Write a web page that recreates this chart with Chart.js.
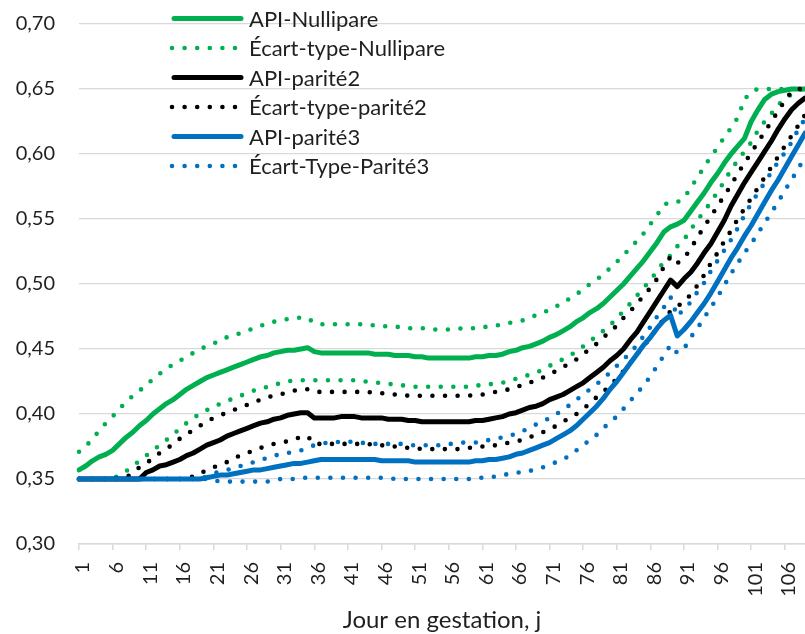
<!DOCTYPE html>
<html>
<head>
<meta charset="utf-8">
<script src="https://cdn.jsdelivr.net/npm/chart.js@4/dist/chart.umd.min.js"></script>
<style>
  html, body { margin: 0; padding: 0; background: #fff; }
  #wrap { width: 805px; height: 634px; }
</style>
</head>
<body>
<div id="wrap"><canvas id="apiChart" width="805" height="634"></canvas></div>
<script>
// jours de gestation (catégories)
const days = [
  1, 2, 3, 4, 5, 6, 7, 8, 9, 10,
  11, 12, 13, 14, 15, 16, 17, 18, 19, 20,
  21, 22, 23, 24, 25, 26, 27, 28, 29, 30,
  31, 32, 33, 34, 35, 36, 37, 38, 39, 40,
  41, 42, 43, 44, 45, 46, 47, 48, 49, 50,
  51, 52, 53, 54, 55, 56, 57, 58, 59, 60,
  61, 62, 63, 64, 65, 66, 67, 68, 69, 70,
  71, 72, 73, 74, 75, 76, 77, 78, 79, 80,
  81, 82, 83, 84, 85, 86, 87, 88, 89, 90,
  91, 92, 93, 94, 95, 96, 97, 98, 99, 100,
  101, 102, 103, 104, 105, 106, 107, 108, 109
];
const tickDays = [1, 6, 11, 16, 21, 26, 31, 36, 41, 46, 51, 56, 61, 66, 71, 76, 81, 86, 91, 96, 101, 106];
const yTicks = [0.30, 0.35, 0.40, 0.45, 0.50, 0.55, 0.60, 0.65, 0.70];

const apiNullipare = [
  0.357, 0.360, 0.364, 0.367, 0.369, 0.372, 0.377, 0.382, 0.386, 0.391,
  0.395, 0.400, 0.404, 0.408, 0.411, 0.415, 0.419, 0.422, 0.425, 0.428,
  0.430, 0.432, 0.434, 0.436, 0.438, 0.440, 0.442, 0.444, 0.445, 0.447,
  0.448, 0.449, 0.449, 0.450, 0.451, 0.448, 0.447, 0.447, 0.447, 0.447,
  0.447, 0.447, 0.447, 0.447, 0.446, 0.446, 0.446, 0.445, 0.445, 0.445,
  0.444, 0.444, 0.443, 0.443, 0.443, 0.443, 0.443, 0.443, 0.443, 0.444,
  0.444, 0.445, 0.445, 0.446, 0.448, 0.449, 0.451, 0.452, 0.454, 0.456,
  0.459, 0.461, 0.464, 0.467, 0.471, 0.474, 0.478, 0.481, 0.485, 0.490,
  0.495, 0.500, 0.506, 0.512, 0.518, 0.525, 0.532, 0.540, 0.544, 0.546,
  0.549, 0.556, 0.563, 0.570, 0.578, 0.585, 0.593, 0.600, 0.606, 0.612,
  0.625, 0.634, 0.642, 0.646, 0.648, 0.649, 0.650, 0.650, 0.650
];
const ecartNulliHaut = [
  0.371, 0.375, 0.381, 0.387, 0.393, 0.398, 0.404, 0.409, 0.414, 0.418,
  0.422, 0.427, 0.431, 0.435, 0.438, 0.441, 0.444, 0.447, 0.450, 0.452,
  0.454, 0.457, 0.459, 0.461, 0.462, 0.464, 0.466, 0.468, 0.469, 0.471,
  0.472, 0.473, 0.474, 0.474, 0.474, 0.470, 0.469, 0.469, 0.469, 0.469,
  0.469, 0.469, 0.469, 0.469, 0.468, 0.468, 0.467, 0.467, 0.467, 0.466,
  0.466, 0.466, 0.466, 0.465, 0.465, 0.465, 0.465, 0.466, 0.466, 0.466,
  0.467, 0.467, 0.468, 0.469, 0.470, 0.471, 0.472, 0.474, 0.476, 0.478,
  0.480, 0.483, 0.485, 0.489, 0.492, 0.496, 0.500, 0.503, 0.508, 0.512,
  0.517, 0.522, 0.528, 0.533, 0.539, 0.546, 0.553, 0.561, 0.563, 0.563,
  0.566, 0.574, 0.582, 0.590, 0.598, 0.605, 0.613, 0.620, 0.628, 0.642,
  0.648, 0.650, 0.650, 0.650, 0.650, 0.650, 0.650, 0.650, 0.650
];
const ecartNulliBas = [
  0.350, 0.350, 0.350, 0.350, 0.350, 0.350, 0.353, 0.356, 0.360, 0.364,
  0.368, 0.372, 0.376, 0.380, 0.384, 0.389, 0.393, 0.397, 0.400, 0.403,
  0.405, 0.408, 0.410, 0.412, 0.414, 0.416, 0.418, 0.419, 0.421, 0.422,
  0.424, 0.425, 0.426, 0.426, 0.426, 0.426, 0.426, 0.426, 0.426, 0.426,
  0.426, 0.426, 0.425, 0.425, 0.424, 0.424, 0.423, 0.423, 0.422, 0.422,
  0.421, 0.421, 0.421, 0.421, 0.421, 0.421, 0.421, 0.421, 0.421, 0.422,
  0.422, 0.423, 0.423, 0.424, 0.426, 0.427, 0.429, 0.430, 0.432, 0.434,
  0.437, 0.440, 0.442, 0.445, 0.448, 0.452, 0.456, 0.460, 0.464, 0.468,
  0.474, 0.479, 0.485, 0.491, 0.497, 0.503, 0.510, 0.517, 0.522, 0.529,
  0.534, 0.542, 0.549, 0.556, 0.563, 0.571, 0.579, 0.588, 0.595, 0.602,
  0.609, 0.618, 0.625, 0.631, 0.638, 0.642, 0.646, 0.649, 0.650
];
const apiParite2 = [
  0.350, 0.350, 0.350, 0.350, 0.350, 0.350, 0.350, 0.350, 0.350, 0.350,
  0.355, 0.357, 0.360, 0.361, 0.363, 0.365, 0.368, 0.370, 0.373, 0.376,
  0.378, 0.380, 0.383, 0.385, 0.387, 0.389, 0.391, 0.393, 0.394, 0.396,
  0.397, 0.399, 0.400, 0.401, 0.401, 0.397, 0.397, 0.397, 0.397, 0.398,
  0.398, 0.398, 0.397, 0.397, 0.397, 0.397, 0.396, 0.396, 0.396, 0.395,
  0.395, 0.394, 0.394, 0.394, 0.394, 0.394, 0.394, 0.394, 0.394, 0.395,
  0.395, 0.396, 0.397, 0.398, 0.400, 0.401, 0.403, 0.405, 0.406, 0.408,
  0.411, 0.413, 0.415, 0.418, 0.421, 0.424, 0.428, 0.432, 0.436, 0.441,
  0.445, 0.450, 0.457, 0.463, 0.471, 0.479, 0.487, 0.495, 0.503, 0.498,
  0.504, 0.509, 0.516, 0.524, 0.531, 0.540, 0.549, 0.560, 0.569, 0.578,
  0.586, 0.594, 0.602, 0.610, 0.619, 0.627, 0.634, 0.639, 0.643
];
const ecartP2Haut = [
  0.350, 0.350, 0.350, 0.350, 0.350, 0.350, 0.350, 0.351, 0.355, 0.359,
  0.362, 0.366, 0.370, 0.373, 0.377, 0.381, 0.384, 0.388, 0.391, 0.394,
  0.397, 0.399, 0.401, 0.403, 0.405, 0.407, 0.409, 0.411, 0.413, 0.414,
  0.415, 0.417, 0.418, 0.419, 0.419, 0.417, 0.417, 0.417, 0.417, 0.417,
  0.417, 0.417, 0.417, 0.417, 0.416, 0.416, 0.416, 0.415, 0.415, 0.414,
  0.414, 0.414, 0.414, 0.414, 0.414, 0.414, 0.414, 0.414, 0.414, 0.415,
  0.415, 0.416, 0.417, 0.418, 0.419, 0.421, 0.422, 0.424, 0.426, 0.428,
  0.431, 0.433, 0.436, 0.439, 0.442, 0.446, 0.450, 0.454, 0.459, 0.463,
  0.468, 0.474, 0.479, 0.485, 0.491, 0.497, 0.504, 0.513, 0.521, 0.516,
  0.520, 0.527, 0.536, 0.544, 0.552, 0.560, 0.568, 0.576, 0.585, 0.593,
  0.601, 0.609, 0.617, 0.625, 0.633, 0.641, 0.648, 0.650, 0.650
];
const ecartP2Bas = [
  0.350, 0.350, 0.350, 0.350, 0.350, 0.350, 0.350, 0.350, 0.350, 0.350,
  0.350, 0.350, 0.350, 0.350, 0.350, 0.350, 0.350, 0.352, 0.354, 0.357,
  0.359, 0.361, 0.363, 0.366, 0.368, 0.370, 0.372, 0.374, 0.375, 0.377,
  0.378, 0.379, 0.381, 0.382, 0.383, 0.377, 0.377, 0.377, 0.377, 0.377,
  0.377, 0.377, 0.377, 0.377, 0.376, 0.376, 0.375, 0.375, 0.374, 0.374,
  0.374, 0.373, 0.373, 0.373, 0.373, 0.373, 0.373, 0.373, 0.374, 0.374,
  0.375, 0.375, 0.376, 0.377, 0.378, 0.379, 0.380, 0.382, 0.384, 0.386,
  0.388, 0.391, 0.394, 0.397, 0.400, 0.404, 0.408, 0.413, 0.417, 0.422,
  0.427, 0.433, 0.439, 0.446, 0.452, 0.459, 0.466, 0.473, 0.479, 0.483,
  0.486, 0.492, 0.499, 0.507, 0.516, 0.524, 0.533, 0.541, 0.550, 0.558,
  0.566, 0.574, 0.582, 0.590, 0.598, 0.606, 0.614, 0.622, 0.630
];
const apiParite3 = [
  0.350, 0.350, 0.350, 0.350, 0.350, 0.350, 0.350, 0.350, 0.350, 0.350,
  0.350, 0.350, 0.350, 0.350, 0.350, 0.350, 0.350, 0.350, 0.350, 0.351,
  0.352, 0.353, 0.353, 0.354, 0.355, 0.356, 0.357, 0.357, 0.358, 0.359,
  0.360, 0.361, 0.362, 0.362, 0.363, 0.364, 0.365, 0.365, 0.365, 0.365,
  0.365, 0.365, 0.365, 0.365, 0.365, 0.364, 0.364, 0.364, 0.364, 0.364,
  0.363, 0.363, 0.363, 0.363, 0.363, 0.363, 0.363, 0.363, 0.363, 0.364,
  0.364, 0.365, 0.365, 0.366, 0.367, 0.369, 0.370, 0.372, 0.374, 0.376,
  0.378, 0.381, 0.384, 0.387, 0.391, 0.396, 0.401, 0.406, 0.412, 0.419,
  0.425, 0.432, 0.439, 0.446, 0.453, 0.459, 0.466, 0.472, 0.476, 0.460,
  0.465, 0.471, 0.478, 0.485, 0.493, 0.502, 0.511, 0.520, 0.528, 0.537,
  0.545, 0.554, 0.563, 0.572, 0.580, 0.589, 0.598, 0.607, 0.616
];
const ecartP3Haut = [
  0.350, 0.350, 0.350, 0.350, 0.350, 0.350, 0.350, 0.350, 0.350, 0.350,
  0.350, 0.350, 0.350, 0.350, 0.350, 0.350, 0.350, 0.350, 0.350, 0.352,
  0.354, 0.356, 0.357, 0.358, 0.360, 0.361, 0.363, 0.365, 0.366, 0.368,
  0.369, 0.370, 0.371, 0.372, 0.374, 0.376, 0.377, 0.378, 0.378, 0.379,
  0.379, 0.378, 0.378, 0.377, 0.377, 0.377, 0.377, 0.377, 0.377, 0.376,
  0.376, 0.376, 0.376, 0.376, 0.376, 0.377, 0.377, 0.378, 0.378, 0.378,
  0.379, 0.380, 0.381, 0.382, 0.383, 0.385, 0.387, 0.389, 0.392, 0.394,
  0.397, 0.400, 0.403, 0.407, 0.411, 0.415, 0.419, 0.423, 0.427, 0.432,
  0.437, 0.442, 0.447, 0.453, 0.460, 0.467, 0.475, 0.482, 0.490, 0.475,
  0.481, 0.486, 0.494, 0.501, 0.510, 0.518, 0.526, 0.534, 0.543, 0.553,
  0.562, 0.570, 0.578, 0.586, 0.594, 0.601, 0.609, 0.619, 0.627
];
const ecartP3Bas = [
  0.350, 0.350, 0.350, 0.350, 0.350, 0.350, 0.350, 0.350, 0.350, 0.350,
  0.350, 0.350, 0.350, 0.350, 0.350, 0.350, 0.350, 0.350, 0.350, 0.350,
  0.349, 0.348, 0.348, 0.348, 0.348, 0.348, 0.348, 0.348, 0.348, 0.349,
  0.350, 0.350, 0.350, 0.351, 0.351, 0.351, 0.351, 0.351, 0.351, 0.351,
  0.351, 0.351, 0.351, 0.351, 0.351, 0.351, 0.351, 0.350, 0.350, 0.350,
  0.350, 0.350, 0.350, 0.350, 0.350, 0.350, 0.350, 0.350, 0.350, 0.351,
  0.351, 0.351, 0.352, 0.353, 0.354, 0.355, 0.355, 0.356, 0.358, 0.359,
  0.361, 0.363, 0.365, 0.368, 0.372, 0.376, 0.380, 0.384, 0.389, 0.394,
  0.398, 0.404, 0.410, 0.416, 0.422, 0.429, 0.437, 0.445, 0.453, 0.447,
  0.450, 0.459, 0.466, 0.474, 0.482, 0.490, 0.499, 0.508, 0.516, 0.524,
  0.531, 0.539, 0.547, 0.555, 0.563, 0.572, 0.580, 0.589, 0.597
];

const GREEN = '#00B050';
const BLACK = '#000000';
const BLUE = '#0070C0';
const TEXT = '#1f1f1f';
const GRID = '#d9d9d9';
const DOTS = [0, 12.6];

function solid(label, data, color, order) {
  return {
    label, data, order,
    borderColor: color, borderWidth: 5,
    borderCapStyle: 'round', borderJoinStyle: 'round',
    pointRadius: 0, tension: 0, fill: false
  };
}

function dotted(label, data, color, order, noLegend) {
  return {
    label, data, order, noLegend,
    borderColor: color, borderWidth: 4.6,
    borderDash: DOTS, borderCapStyle: 'round', borderJoinStyle: 'round',
    pointRadius: 0, tension: 0, fill: false
  };
}

// légende dessinée dans la zone du graphique, en haut à gauche
const insideLegend = {
  id: 'insideLegend',
  afterDraw(chart) {
    const ctx = chart.ctx;
    let y = 18.5;
    chart.data.datasets.forEach(ds => {
      if (ds.noLegend) return;
      ctx.save();
      ctx.strokeStyle = ds.borderColor;
      ctx.lineWidth = ds.borderWidth;
      ctx.lineCap = 'round';
      ctx.setLineDash(ds.borderDash || []);
      ctx.beginPath();
      if (ds.borderDash) {
        ctx.moveTo(172, y);
        ctx.lineTo(243, y);
      } else {
        ctx.moveTo(174, y);
        ctx.lineTo(241, y);
      }
      ctx.stroke();
      ctx.setLineDash([]);
      ctx.fillStyle = TEXT;
      ctx.font = '22px Lato';
      ctx.textBaseline = 'middle';
      ctx.fillText(ds.label, 249, y + 1);
      ctx.restore();
      y += 29.5;
    });
  }
};

new Chart(document.getElementById('apiChart'), {
  type: 'line',
  data: {
    labels: days.map(String),
    datasets: [
      solid('API-Nullipare', apiNullipare, GREEN, 7),
      dotted('Écart-type-Nullipare', ecartNulliHaut, GREEN, 8, false),
      dotted('Écart-type-Nullipare', ecartNulliBas, GREEN, 9, true),
      solid('API-parité2', apiParite2, BLACK, 4),
      dotted('Écart-type-parité2', ecartP2Haut, BLACK, 5, false),
      dotted('Écart-type-parité2', ecartP2Bas, BLACK, 6, true),
      solid('API-parité3', apiParite3, BLUE, 1),
      dotted('Écart-Type-Parité3', ecartP3Haut, BLUE, 2, false),
      dotted('Écart-Type-Parité3', ecartP3Bas, BLUE, 3, true)
    ]
  },
  options: {
    responsive: false,
    animation: false,
    layout: { padding: { top: 24, right: 0, bottom: 0, left: 0 } },
    plugins: {
      legend: { display: false },
      tooltip: { enabled: false }
    },
    scales: {
      x: {
        type: 'category',
        offset: false,
        afterBuildTicks: scale => {
          scale.ticks = scale.ticks.filter(t => tickDays.includes(days[t.value]));
        },
        afterFit: scale => {
          scale.height = 90;
          scale.paddingLeft = 0;
          scale.paddingRight = 0;
        },
        grid: {
          drawOnChartArea: false,
          drawTicks: true,
          tickLength: 6,
          color: GRID,
          lineWidth: 1.5
        },
        border: { display: true, color: GRID, width: 1.5 },
        ticks: {
          autoSkip: false,
          minRotation: 90,
          maxRotation: 90,
          padding: 12,
          labelOffset: 4,
          color: TEXT,
          font: { family: 'Lato', size: 20 }
        },
        title: {
          display: true,
          text: 'Jour en gestation, j',
          color: TEXT,
          font: { family: 'Lato', size: 24, lineHeight: 1 },
          padding: { top: 0, bottom: 2 }
        }
      },
      y: {
        min: yTicks[0],
        max: yTicks[yTicks.length - 1],
        afterBuildTicks: scale => {
          scale.ticks = yTicks.map(v => ({ value: v }));
        },
        afterFit: scale => {
          scale.width = 79;
          scale.paddingTop = 0;
          scale.paddingBottom = 0;
        },
        grid: { color: GRID, lineWidth: 1.3, drawTicks: false },
        border: { display: false },
        ticks: {
          padding: 24,
          color: TEXT,
          font: { family: 'Lato', size: 20 },
          callback: v => v.toFixed(2).replace('.', ',')
        }
      }
    }
  },
  plugins: [insideLegend]
});
</script>
</body>
</html>
